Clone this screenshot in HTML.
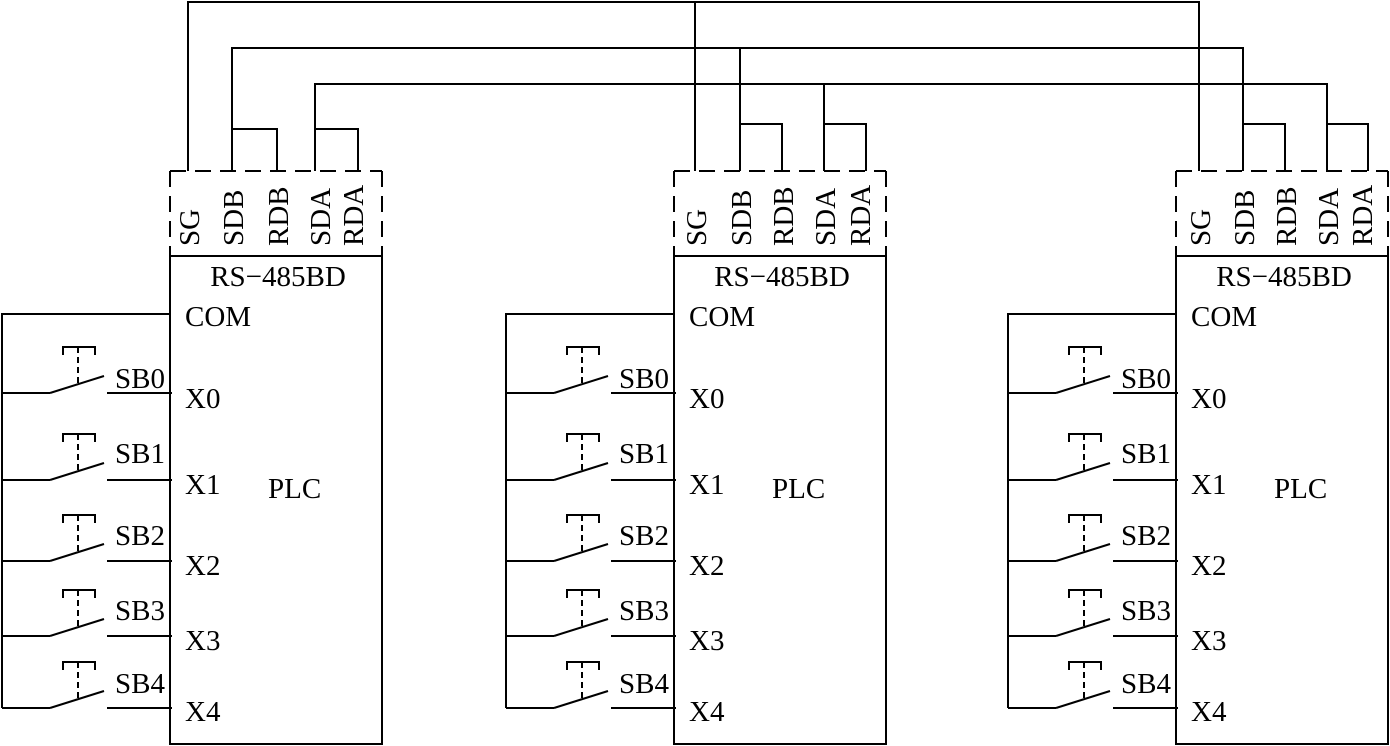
<!DOCTYPE html>
<html><head><meta charset="utf-8"><style>
html,body{margin:0;padding:0;background:#fff}
svg{display:block}
text{font-family:"Liberation Serif",serif;fill:#000}
</style></head><body>
<svg width="1390" height="746" viewBox="0 0 1390 746" xmlns="http://www.w3.org/2000/svg">
<g stroke="#000" stroke-width="2" fill="none">
<polyline points="188,171 188,2 1199,2 1199,171"/>
<line x1="695" y1="2" x2="695" y2="171"/>
<polyline points="232,171 232,48 1243,48 1243,171"/>
<line x1="740" y1="48" x2="740" y2="171"/>
<polyline points="315,171 315,84 1327,84 1327,171"/>
<line x1="824" y1="84" x2="824" y2="171"/>
<polyline points="232,129 277,129 277,171"/>
<polyline points="315,129 358,129 358,171"/>
<polyline points="740,124 782,124 782,171"/>
<polyline points="824,124 866,124 866,171"/>
<polyline points="1243,124 1285,124 1285,171"/>
<polyline points="1327,124 1368,124 1368,171"/>
</g>
<g font-size="29">
<text transform="translate(199,246) rotate(-90)">SG</text>
<text transform="translate(243,246) rotate(-90)">SDB</text>
<text transform="translate(288,246) rotate(-90)">RDB</text>
<text transform="translate(330,246) rotate(-90)">SDA</text>
<text transform="translate(363,246) rotate(-90)">RDA</text>
<text transform="translate(706,246) rotate(-90)">SG</text>
<text transform="translate(751,246) rotate(-90)">SDB</text>
<text transform="translate(793,246) rotate(-90)">RDB</text>
<text transform="translate(835,246) rotate(-90)">SDA</text>
<text transform="translate(870,246) rotate(-90)">RDA</text>
<text transform="translate(1210,246) rotate(-90)">SG</text>
<text transform="translate(1254,246) rotate(-90)">SDB</text>
<text transform="translate(1296,246) rotate(-90)">RDB</text>
<text transform="translate(1338,246) rotate(-90)">SDA</text>
<text transform="translate(1372,246) rotate(-90)">RDA</text>
</g>
<defs>
<g id="sw">
<g stroke="#000" stroke-width="2" fill="none">
<line x1="0" y1="0" x2="48" y2="0"/>
<line x1="48" y1="0" x2="102" y2="-17"/>
<line x1="105" y1="0" x2="170" y2="0"/>
<polyline points="61,-38 61,-46 93,-46 93,-38"/>
<line x1="76" y1="-46" x2="76" y2="-10" stroke-dasharray="6,4"/>
</g>
</g>
<g id="mod">
<g stroke="#000" stroke-width="2" fill="none">
<line x1="170" y1="171" x2="382" y2="171" stroke-dasharray="16,9"/>
<line x1="170" y1="171" x2="170" y2="256" stroke-dasharray="16,9"/>
<line x1="382" y1="171" x2="382" y2="256" stroke-dasharray="16,9"/>
<rect x="170" y="256" width="212" height="488"/>
<polyline points="170,314 2,314 2,708"/>
</g>
<g font-size="29">
<text x="278" y="286" text-anchor="middle">RS−485BD</text>
<text x="185" y="326">COM</text>
<text x="185" y="408">X0</text>
<text x="185" y="494">X1</text>
<text x="185" y="575">X2</text>
<text x="185" y="650">X3</text>
<text x="185" y="721">X4</text>
<text x="268" y="498">PLC</text>
<text x="115" y="388">SB0</text>
<text x="115" y="463">SB1</text>
<text x="115" y="545">SB2</text>
<text x="115" y="620">SB3</text>
<text x="115" y="693">SB4</text>
</g>
<use href="#sw" transform="translate(2,393)"/>
<use href="#sw" transform="translate(2,480)"/>
<use href="#sw" transform="translate(2,561)"/>
<use href="#sw" transform="translate(2,636)"/>
<use href="#sw" transform="translate(2,708)"/>
</g>
</defs>
<use href="#mod"/>
<use href="#mod" transform="translate(504,0)"/>
<use href="#mod" transform="translate(1006,0)"/>
</svg>
</body></html>
